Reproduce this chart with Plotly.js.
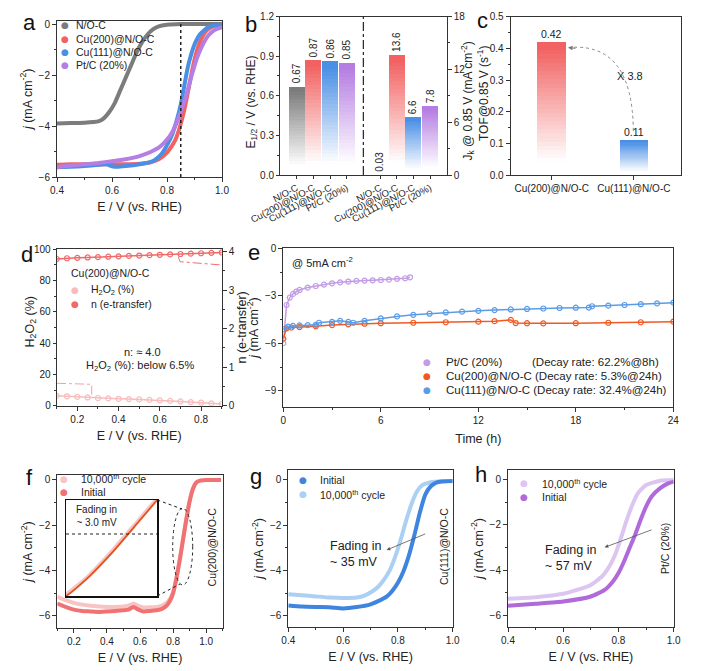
<!DOCTYPE html>
<html><head><meta charset="utf-8">
<script src="https://cdn.plot.ly/plotly-3.0.1.min.js"></script>
<style>html,body{margin:0;padding:0;background:#fff}#chart{width:703px;height:671px}</style>
</head><body><div id="chart"></div>
<script>
// ===== DATA =====
// (a) LSV curves, E (V vs RHE) and j (mA cm-2)
const aE_NOC = [0.40,0.45,0.50,0.55,0.57,0.59,0.61,0.63,0.65,0.67,0.69,0.71,0.73,0.75,0.77,0.80,0.85,0.90,0.95,1.00];
const aJ_NOC = [-3.90,-3.88,-3.87,-3.82,-3.70,-3.45,-3.10,-2.60,-2.10,-1.60,-1.10,-0.70,-0.40,-0.20,-0.09,-0.03,0,0,0,0];
const aE_Cu200 = [0.40,0.45,0.50,0.55,0.60,0.65,0.70,0.74,0.77,0.79,0.81,0.83,0.845,0.86,0.87,0.88,0.89,0.90,0.91,0.92,0.94,0.96,0.98,1.00];
const aJ_Cu200 = [-5.52,-5.50,-5.50,-5.50,-5.50,-5.50,-5.48,-5.42,-5.30,-5.15,-4.90,-4.55,-4.10,-3.50,-3.00,-2.45,-1.90,-1.40,-1.00,-0.70,-0.30,-0.12,-0.05,-0.02];
const aE_Cu111 = [0.40,0.45,0.50,0.55,0.58,0.60,0.62,0.65,0.70,0.74,0.76,0.78,0.80,0.82,0.84,0.85,0.86,0.87,0.88,0.90,0.92,0.95,1.00];
const aJ_Cu111 = [-5.62,-5.60,-5.57,-5.52,-5.50,-5.58,-5.60,-5.57,-5.50,-5.42,-5.30,-5.10,-4.75,-4.30,-3.60,-3.15,-2.60,-2.00,-1.50,-0.80,-0.40,-0.12,-0.02];
const aE_PtC = [0.40,0.45,0.50,0.55,0.60,0.65,0.70,0.74,0.77,0.79,0.81,0.83,0.85,0.87,0.89,0.91,0.93,0.95,0.97,1.00];
const aJ_PtC = [-5.62,-5.55,-5.50,-5.45,-5.38,-5.30,-5.18,-5.02,-4.85,-4.65,-4.40,-4.00,-3.45,-2.80,-2.00,-1.30,-0.80,-0.45,-0.25,-0.12];
const aLegend = ['N/O-C','Cu(200)@N/O-C','Cu(111)@N/O-C','Pt/C (20%)'];

// (b) half-wave potential and kinetic current
const bCats = ['N/O-C','Cu(200)@N/O-C','Cu(111)@N/O-C','Pt/C (20%)'];
const bE12 = [0.67,0.87,0.86,0.85];
const bJk = [0.03,13.6,6.6,7.8];

// (c) TOF
const cCats = ['Cu(200)@N/O-C','Cu(111)@N/O-C'];
const cTOF = [0.42,0.11];

// (d) RRDE: H2O2 (%) and electron-transfer number
const dE = [0.10,0.15,0.20,0.25,0.30,0.35,0.40,0.45,0.50,0.55,0.60,0.65,0.70,0.75,0.80,0.85,0.90];
const dH2O2 = [6.4,6.0,5.6,5.25,4.9,4.65,4.4,4.2,4.0,3.7,3.4,3.05,2.7,2.3,1.9,1.5,1.1];
const dN = [3.81,3.83,3.84,3.85,3.86,3.87,3.88,3.89,3.90,3.91,3.92,3.93,3.94,3.95,3.96,3.97,3.98];

// (e) chronoamperometry, time (h) and j
const eT_PtC = [0,0.2,0.4,0.6,0.8,1,1.5,2,2.5,3,3.5,4,4.5,5,5.5,6,6.5,7,7.5,7.8];
const eJ_PtC = [-5.99,-3.58,-3.11,-2.88,-2.73,-2.63,-2.48,-2.38,-2.29,-2.21,-2.15,-2.10,-2.06,-2.04,-2.02,-2.00,-1.98,-1.93,-1.89,-1.83];
const eT_Cu200 = [0,0.2,0.5,1,2,3,4,5,6,8,10,12,13,14,14.3,15,16,18,20,22,24];
const eJ_Cu200 = [-5.70,-5.05,-5.00,-4.98,-4.92,-4.85,-4.80,-4.76,-4.73,-4.70,-4.67,-4.63,-4.60,-4.52,-4.72,-4.73,-4.74,-4.73,-4.70,-4.67,-4.63];
const eT_Cu111 = [0,0.3,0.6,1,1.5,2,2.2,3,3.5,4,4.3,5,6,7,8,9,10,11,12,13,14,15,16,17,18,18.8,19,20,21,22,23,24];
const eJ_Cu111 = [-5.10,-4.95,-4.90,-4.87,-4.85,-4.83,-4.70,-4.65,-4.58,-4.65,-4.70,-4.58,-4.43,-4.30,-4.20,-4.13,-4.05,-4.00,-3.95,-3.90,-3.86,-3.83,-3.80,-3.77,-3.75,-3.74,-3.66,-3.62,-3.58,-3.53,-3.48,-3.43];
const eLegend = ['Pt/C (20%)','Cu(200)@N/O-C','Cu(111)@N/O-C'];
const eDecay = ['(Decay rate: 62.2%@8h)','(Decay rate: 5.3%@24h)','(Decay rate: 32.4%@24h)'];

// (f) Cu(200)@N/O-C stability
const fE = [0.10,0.15,0.20,0.25,0.30,0.35,0.40,0.45,0.50,0.53,0.56,0.59,0.62,0.66,0.70,0.73,0.76,0.78,0.80,0.82,0.84,0.86,0.88,0.90,0.92,0.94,0.96,1.00,1.05,1.09];
const fJ_init = [-5.45,-5.60,-5.72,-5.78,-5.80,-5.82,-5.80,-5.78,-5.75,-5.72,-5.60,-5.72,-5.80,-5.78,-5.75,-5.70,-5.55,-5.35,-5.00,-4.35,-3.55,-2.65,-1.75,-0.95,-0.40,-0.12,-0.04,0,0,0];
const fJ_10k = [-5.15,-5.30,-5.42,-5.50,-5.55,-5.58,-5.60,-5.60,-5.58,-5.55,-5.45,-5.55,-5.62,-5.62,-5.60,-5.55,-5.42,-5.25,-4.95,-4.32,-3.50,-2.60,-1.70,-0.90,-0.37,-0.10,-0.03,0,0,0];

// (g) Cu(111)@N/O-C stability
const gE_init = [0.40,0.45,0.50,0.55,0.60,0.65,0.70,0.73,0.76,0.78,0.80,0.82,0.84,0.86,0.88,0.90,0.92,0.94,0.96,1.00];
const gJ_init = [-5.55,-5.60,-5.62,-5.63,-5.68,-5.62,-5.50,-5.35,-5.15,-4.90,-4.55,-4.05,-3.35,-2.45,-1.45,-0.65,-0.28,-0.12,-0.07,-0.05];
const gE_10k = [0.40,0.45,0.50,0.55,0.60,0.65,0.68,0.71,0.73,0.75,0.77,0.79,0.81,0.83,0.85,0.87,0.89,0.92,0.96,1.00];
const gJ_10k = [-5.05,-5.10,-5.15,-5.20,-5.22,-5.20,-5.10,-4.90,-4.70,-4.40,-4.00,-3.40,-2.65,-1.80,-1.05,-0.50,-0.22,-0.10,-0.06,-0.05];

// (h) Pt/C stability
const hE_init = [0.40,0.50,0.60,0.70,0.75,0.78,0.80,0.82,0.84,0.86,0.88,0.90,0.92,0.95,0.98,1.00];
const hJ_init = [-5.57,-5.48,-5.38,-5.16,-4.87,-4.50,-4.13,-3.62,-3.03,-2.45,-1.79,-1.20,-0.76,-0.40,-0.18,-0.10];
const hE_10k = [0.40,0.50,0.60,0.65,0.70,0.74,0.77,0.79,0.81,0.83,0.85,0.87,0.90,0.95,1.00];
const hJ_10k = [-5.26,-5.19,-5.04,-4.87,-4.65,-4.28,-3.77,-3.26,-2.55,-1.79,-1.13,-0.62,-0.25,-0.06,-0.03];

// ===== STYLE / LAYOUT HELPERS =====
const W = 703, H = 671;
const FONT = 'Liberation Sans, Arial, sans-serif';
const LC = '#333';
const C = {gray:'#7c7c7c', red:'#f26262', blue:'#4a8fe6', purple:'#b57ee3',
  ePt:'#c39be6', e200:'#ef5a24', e111:'#5b9ce8',
  fInit:'#f07272', f10k:'#f8c3c3', gInit:'#3f84de', g10k:'#acd0f3', hInit:'#b06ad9', h10k:'#dcc6f1',
  dH:'#f8bcbc', dN:'#f06a6a'};
const dxp = (a,b)=>[a/W,b/W];
const dyp = (a,b)=>[1-b/H,1-a/H];
const PX = x=>x/W, PY = y=>1-y/H;

function ax(domain, range, extra){
  return Object.assign({domain, range, showline:true, linecolor:LC, linewidth:1, mirror:true,
    ticks:'outside', ticklen:4, tickwidth:1, tickcolor:LC, showgrid:false, zeroline:false,
    tickfont:{family:FONT,size:10,color:'#222'}, automargin:false, fixedrange:true}, extra||{});
}
function ttl(text, standoff, size){ return {text, standoff:standoff, font:{family:FONT,size:size||12.5,color:'#222'}}; }
function hex2rgb(h){ return [parseInt(h.substr(1,2),16),parseInt(h.substr(3,2),16),parseInt(h.substr(5,2),16)]; }
function mix(h,f){ const c=hex2rgb(h); return 'rgb('+c.map(v=>Math.round(255*(1-f)+v*f)).join(',')+')'; }

const traces = [];
function curve(x,y,color,xa,ya,width){
  traces.push({type:'scatter',mode:'lines',x,y,xaxis:xa,yaxis:ya,
    line:{color,width:width||4,shape:'spline',smoothing:0.5},showlegend:false,hoverinfo:'skip'});
}
function dotted(x,y,color,xa,ya){
  traces.push({type:'scatter',mode:'lines+markers',x,y,xaxis:xa,yaxis:ya,
    line:{color,width:1.5},marker:{symbol:'circle-open',size:5,color,line:{width:1.2}},showlegend:false,hoverinfo:'skip'});
}
const NSEG = 32;
function gradStack(xs, vals, colors, xa, ya, width){
  for(let k=0;k<NSEG;k++){
    const t=(k+0.5)/NSEG, f=Math.max(0,Math.min(1,(t-0.1)/0.85));
    traces.push({type:'bar',x:xs,y:vals.map(v=>v/NSEG),xaxis:xa,yaxis:ya,width,
      marker:{color:colors.map(c=>mix(c,f)),line:{width:0}},showlegend:false,hoverinfo:'skip'});
  }
}

// ---- (a)
curve(aE_NOC,aJ_NOC,C.gray,'x','y');
curve(aE_Cu200,aJ_Cu200,C.red,'x','y');
curve(aE_Cu111,aJ_Cu111,C.blue,'x','y');
curve(aE_PtC,aJ_PtC,C.purple,'x','y');
// ---- (b)
const bCol = [C.gray,C.red,C.blue,C.purple];
const bLeftX = bCats.map((_,i)=>i+1), bRightX = bCats.map((_,i)=>i+6);
gradStack(bLeftX,bE12,bCol,'x2','y2',0.95);
gradStack(bRightX,bJk,bCol,'x2','y3',0.95);
// ---- (c)
const cX = cCats.map((_,i)=>i);
gradStack(cX,cTOF,[C.red,C.blue],'x3','y4',0.35);
// ---- (d)
dotted(dE,dH2O2,C.dH,'x4','y5');
dotted(dE,dN,C.dN,'x4','y6');
// ---- (e)
dotted(eT_PtC,eJ_PtC,C.ePt,'x5','y7');
dotted(eT_Cu200,eJ_Cu200,C.e200,'x5','y7');
dotted(eT_Cu111,eJ_Cu111,C.e111,'x5','y7');
// ---- (f) + inset
curve(fE,fJ_10k,C.f10k,'x6','y8');
curve(fE,fJ_init,C.fInit,'x6','y8');
curve(fE,fJ_10k,C.f10k,'x7','y9',4);
curve(fE,fJ_init,'#e5531c','x7','y9',1.8);
// ---- (g)
curve(gE_10k,gJ_10k,C.g10k,'x8','y10');
curve(gE_init,gJ_init,C.gInit,'x8','y10');
// ---- (h)
curve(hE_10k,hJ_10k,C.h10k,'x9','y11');
curve(hE_init,hJ_init,C.hInit,'x9','y11');

// ===== ANNOTATIONS =====
const ann = [];
function T(text,x,y,size,o){ ann.push(Object.assign({text,x:PX(x),y:PY(y),xref:'paper',yref:'paper',showarrow:false,
  font:{family:FONT,size:size||11,color:'#222'},xanchor:'center',yanchor:'middle'},o||{})); }
function LG(mx,tx,y,color,text,size){
  T('●',mx,y,9,{font:{family:'DejaVu Sans, sans-serif',size:9,color}});
  T(text,tx,y,size||10.5,{xanchor:'left'});
}
// panel letters
[['a',30,22],['b',251,25],['c',482,21],['d',27,254],['e',254,252],['f',30,477],['g',256,476],['h',481,474]]
  .forEach(p=>T(p[0],p[1],p[2],22,{font:{family:FONT,size:22,color:'#111'}}));
// (a) legend
const aCols=[C.gray,C.red,C.blue,C.purple];
aLegend.forEach((s,i)=>LG(65,74,[25,39,52.3,65][i],aCols[i],s,10.5));
// (b) value labels + axis titles
bE12.forEach((v,i)=>ann.push({text:v.toFixed(2),x:bLeftX[i],y:v,xref:'x2',yref:'y2',showarrow:false,textangle:-90,
  xanchor:'center',yanchor:'bottom',yshift:1,font:{family:FONT,size:10,color:'#222'}}));
bJk.forEach((v,i)=>ann.push({text:String(v),x:bRightX[i],y:v,xref:'x2',yref:'y3',showarrow:false,textangle:-90,
  xanchor:'center',yanchor:'bottom',yshift:1,font:{family:FONT,size:10,color:'#222'}}));
T('E<sub>1/2</sub> / V (vs. RHE)',251.5,102,12,{textangle:-90});
T('J<sub>k</sub> @ 0.85 V (mA cm<sup>-2</sup>)',467.5,101,12,{textangle:-90});
// (c) value labels + title + curved arrow
cTOF.forEach((v,i)=>ann.push({text:v.toFixed(2),x:cX[i],y:v,xref:'x3',yref:'y4',showarrow:false,
  xanchor:'center',yanchor:'bottom',yshift:0,font:{family:FONT,size:10.5,color:'#222'}}));
T('TOF@0.85 V (s<sup>-1</sup>)',483,94,12,{textangle:-90});
T('X 3.8',630,75.7,11);
ann.push({text:'',x:PX(568),y:PY(47.5),xref:'paper',yref:'paper',showarrow:true,ax:9,ay:1,arrowhead:2,arrowsize:0.9,arrowwidth:1,arrowcolor:'#777'});
// (d)
T('H<sub>2</sub>O<sub>2</sub> (%)',30.5,322,12.5,{textangle:-90});
T('Cu(200)@N/O-C',69.3,273,10.5,{xanchor:'left'});
LG(75,89.3,290,C.dH,'H<sub>2</sub>O<sub>2</sub> (%)',10.5);
LG(75,89.3,304,C.dN,'n (e-transfer)',10.5);
T('n: ≈ 4.0',142,351.7,11);
T('H<sub>2</sub>O<sub>2</sub> (%): below 6.5%',140,366,11);
// (e)
T('@ 5mA cm<sup>-2</sup>',290,261.5,11,{xanchor:'left'});
const eCols=[C.ePt,C.e200,C.e111];
eLegend.forEach((s,i)=>{
  const y=[361.7,376,390.3][i];
  if(i===0){ LG(427,444,y,eCols[i],s,11.5); T(eDecay[i],530,y,11.5,{xanchor:'left'}); }
  else LG(427,444,y,eCols[i],s+' '+eDecay[i],11.5);
});
// (f)
LG(64.3,79.3,479,C.f10k,'10,000<sup>th</sup> cycle',10.5);
LG(64.3,79.3,491.7,C.fInit,'Initial',10.5);
T('Fading in<br>~ 3.0 mV',96.7,516,10);
T('Cu(200)@N/O-C',211.7,546.7,10.5,{textangle:-90});
// (g)
LG(303.3,318.3,480,C.gInit,'Initial',10.5);
LG(303.3,318.3,494.3,C.g10k,'10,000<sup>th</sup> cycle',10.5);
T('Fading in<br>~ 35 mV',328.3,554.2,12.5,{xanchor:'left',align:'left'});
ann.push({text:'',x:PX(386.7),y:PY(550),xref:'paper',yref:'paper',showarrow:true,ax:40,ay:-16.7,arrowhead:2,arrowsize:0.9,arrowwidth:0.8,arrowcolor:'#555'});
T('Cu(111)@N/O-C',443.3,546.7,10.5,{textangle:-90});
// (h)
LG(523.7,540.3,483.3,C.h10k,'10,000<sup>th</sup> cycle',10.5);
LG(523.7,540.3,496.7,C.hInit,'Initial',10.5);
T('Fading in<br>~ 57 mV',543,558,12.5,{xanchor:'left',align:'left'});
ann.push({text:'',x:PX(604.7),y:PY(547.3),xref:'paper',yref:'paper',showarrow:true,ax:48.3,ay:-18,arrowhead:2,arrowsize:0.9,arrowwidth:0.8,arrowcolor:'#555'});
T('Pt/C (20%)',665,549,10.5,{textangle:-90});

// ===== SHAPES =====
const shapes = [
  {type:'line',xref:'x',yref:'y domain',x0:0.85,x1:0.85,y0:0,y1:1,line:{color:'#222',width:1.5,dash:'dot'}},
  {type:'line',xref:'x2',yref:'y2 domain',x0:5,x1:5,y0:0,y1:1,line:{color:'#222',width:1.2,dash:'dashdot'}},
  {type:'path',xref:'paper',yref:'paper',
    path:`M ${PX(633.3)},${PY(131)} Q ${PX(632.8)},${PY(44.2)} ${PX(572)},${PY(47.3)}`,line:{color:'#888',width:1,dash:'dot'}},
  {type:'path',xref:'paper',yref:'paper',
    path:`M ${PX(57)},${PY(383.3)} L ${PX(91.7)},${PY(384.3)} L ${PX(91.7)},${PY(395)}`,line:{color:'#f5a0a0',width:1,dash:'dashdot'}},
  {type:'path',xref:'paper',yref:'paper',
    path:`M ${PX(178.3)},${PY(256.7)} L ${PX(180)},${PY(261.7)} L ${PX(221.7)},${PY(265)}`,line:{color:'#f07070',width:1,dash:'dashdot'}},
  {type:'line',xref:'paper',yref:'paper',x0:PX(66),x1:PX(157.3),y0:PY(534),y1:PY(534),line:{color:'#222',width:1,dash:'dot'}},
  {type:'line',xref:'paper',yref:'paper',x0:PX(157.3),x1:PX(182),y0:PY(500),y1:PY(509),line:{color:'#222',width:1,dash:'dot'}},
  {type:'line',xref:'paper',yref:'paper',x0:PX(157.3),x1:PX(180),y0:PY(596),y1:PY(584),line:{color:'#222',width:1,dash:'dot'}},
  {type:'circle',xref:'paper',yref:'paper',x0:PX(172.7),x1:PX(192.7),y0:PY(585),y1:PY(508.3),line:{color:'#222',width:1,dash:'dot'}}
];

// ===== AXES =====
const jT = '<i>j</i> (mA cm<sup>-2</sup>)', eTt = 'E / V (vs. RHE)';
const XS = 7, YS = 3;
const layout = {
  width:W, height:H, autosize:false, margin:{l:0,r:0,t:0,b:0},
  paper_bgcolor:'#fff', plot_bgcolor:'rgba(0,0,0,0)', barmode:'stack', showlegend:false,
  font:{family:FONT,color:'#222'},
  // (a)
  xaxis: ax(dxp(57,222), [0.4,1.0], {anchor:'y', dtick:0.2, tickformat:'.1f', minor:{dtick:0.1,ticklen:2,tickcolor:LC}, title:ttl(eTt,XS)}),
  yaxis: ax(dyp(20.5,177), [-6,0.14], {anchor:'x', dtick:2, minor:{dtick:1,ticklen:2,tickcolor:LC}, title:ttl(jT,YS)}),
  // (b)
  xaxis2: ax(dxp(280,446.7), [0,10], {anchor:'y2', tickvals:[...bLeftX,...bRightX], ticktext:[...bCats,...bCats], tickangle:-28, tickfont:{family:FONT,size:9.5,color:'#222'}, ticklen:3}),
  yaxis2: ax(dyp(16.5,175), [0,1.2], {anchor:'x2', dtick:0.3, tickformat:'.1f', mirror:false, ticklen:3, minor:{dtick:0.15,ticklen:2,tickcolor:LC}}),
  yaxis3: ax(dyp(16.5,175), [0,18], {anchor:'x2', overlaying:'y2', side:'right', dtick:6, mirror:false, minor:{dtick:3,ticklen:2,tickcolor:LC}}),
  // (c)
  xaxis3: ax(dxp(510.7,680.7), [-0.5,1.57], {anchor:'y4', tickvals:cX, ticktext:cCats, tickfont:{family:FONT,size:10,color:'#222'}}),
  yaxis4: ax(dyp(16.7,175), [0,0.5], {anchor:'x3', dtick:0.1, tickformat:'.1f', minor:{dtick:0.05,ticklen:2,tickcolor:LC}}),
  // (d)
  xaxis4: ax(dxp(56.7,221.7), [0.1,0.9], {anchor:'y5', tickvals:[0.2,0.4,0.6,0.8], tickformat:'.1f', minor:{dtick:0.1,ticklen:2,tickcolor:LC}, title:ttl(eTt,XS)}),
  yaxis5: ax(dyp(249,405.7), [0,100], {anchor:'x4', dtick:20, mirror:false, ticklen:3, minor:{dtick:10,ticklen:2,tickcolor:LC}}),
  yaxis6: ax(dyp(249,405.7), [0,4.07], {anchor:'x4', overlaying:'y5', side:'right', dtick:1, mirror:false, minor:{dtick:0.5,ticklen:2,tickcolor:LC}, title:ttl('n (e-transfer)',0)}),
  // (e)
  xaxis5: ax(dxp(283.3,673.3), [0,24], {anchor:'y7', dtick:6, minor:{dtick:3,ticklen:2,tickcolor:LC}, title:ttl('Time (h)',XS+2)}),
  yaxis7: ax(dyp(248.3,406.7), [-10,0], {anchor:'x5', tickvals:[0,-3,-6,-9], minor:{dtick:1.5,ticklen:2,tickcolor:LC}, title:ttl(jT,YS)}),
  // (f)
  xaxis6: ax(dxp(57.3,222.7), [0.1,1.1], {anchor:'y8', tickvals:[0.2,0.4,0.6,0.8,1.0], tickformat:'.1f', minor:{dtick:0.1,ticklen:2,tickcolor:LC}, title:ttl(eTt,XS)}),
  yaxis8: ax(dyp(475,628), [-6.53,0.22], {anchor:'x6', dtick:2, minor:{dtick:1,ticklen:2,tickcolor:LC}, title:ttl(jT,YS)}),
  xaxis7: ax(dxp(66,157.3), [0.80,0.88], {anchor:'y9', ticks:'', showticklabels:false, linecolor:'#111', linewidth:1.5}),
  yaxis9: ax(dyp(500,596), [-5.0,-1.75], {anchor:'x7', ticks:'', showticklabels:false, linecolor:'#111', linewidth:1.5}),
  // (g)
  xaxis8: ax(dxp(288.3,452.7), [0.4,1.0], {anchor:'y10', dtick:0.2, tickformat:'.1f', minor:{dtick:0.1,ticklen:2,tickcolor:LC}, title:ttl(eTt,XS)}),
  yaxis10: ax(dyp(470,626.7), [-6.49,0.44], {anchor:'x8', dtick:2, minor:{dtick:1,ticklen:2,tickcolor:LC}, title:ttl(jT,YS)}),
  // (h)
  xaxis9: ax(dxp(508,673.7), [0.4,1.0], {anchor:'y11', dtick:0.2, tickformat:'.1f', minor:{dtick:0.1,ticklen:2,tickcolor:LC}, title:ttl(eTt,XS)}),
  yaxis11: ax(dyp(470,626.7), [-6.49,0.41], {anchor:'x9', dtick:2, minor:{dtick:1,ticklen:2,tickcolor:LC}, title:ttl(jT,YS)}),
  annotations: ann, shapes: shapes
};
Plotly.newPlot('chart', traces, layout, {staticPlot:true, displayModeBar:false});
</script></body></html>
